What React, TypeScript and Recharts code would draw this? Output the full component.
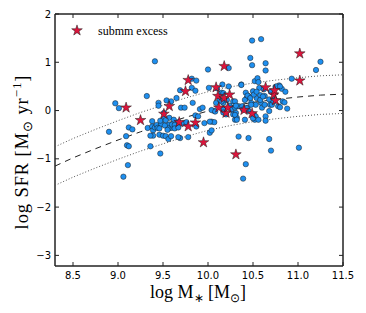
import React from "react";
import { ScatterChart, Scatter, XAxis, YAxis, Customized, ReferenceArea } from "recharts";

const xTicks = [8.5, 9.0, 9.5, 10.0, 10.5, 11.0, 11.5];
const yTicks = [-3, -2, -1, 0, 1, 2];
const xDomain: [number, number] = [8.3, 11.5];
const yDomain: [number, number] = [-3.22, 2];

const normalGalaxies: [number, number][] = [
  [8.90,-0.44],[8.97,0.15],[9.01,0.05],[9.09,-0.53],[9.10,-0.72],[9.12,-0.74],[9.11,-1.13],[9.06,-1.37],[9.12,-0.35],[9.16,-0.39],
  [9.32,0.30],[9.33,-0.36],[9.36,-0.74],[9.41,1.02],[9.45,0.16],[9.45,0.10],[9.38,-0.22],[9.38,-0.33],[9.39,-0.41],[9.39,-0.52],
  [9.41,-0.35],[9.46,-0.50],[9.47,-0.89],[9.50,-0.52],[9.51,-0.05],[9.51,-0.16],[9.53,-0.53],[9.54,0.21],[9.56,-0.59],[9.57,-0.29],
  [9.57,-0.15],[9.59,0.19],[9.59,-0.36],[9.59,-0.53],[9.62,-0.19],[9.67,-0.24],[9.69,0.42],[9.70,0.06],[9.69,-0.57],[9.72,-0.27],
  [9.74,0.06],[9.76,-0.24],[9.78,-0.55],[9.82,0.66],[9.82,0.47],[9.86,0.41],[9.87,0.62],[9.83,0.16],[9.86,-0.10],[9.89,-0.12],
  [9.91,0.03],[9.87,-0.33],[9.94,0.06],[9.96,-0.26],[9.65,0.26],[9.56,-0.37],[9.36,-0.52],[9.43,-0.30],[9.48,-0.28],[9.52,-0.31],
  [9.55,-0.40],[9.60,-0.29],[9.63,-0.30],[9.44,-0.36],[9.47,-0.21],[9.53,-0.20],[9.46,-0.37],[9.63,-0.37],[9.67,-0.35],[9.67,-0.55],
  [10.00,0.85],[10.01,0.47],[10.02,-0.46],[10.04,-0.41],[10.04,-0.23],[10.07,-0.24],[10.07,-0.01],[10.09,0.16],[10.13,0.23],[10.15,0.37],
  [10.17,0.16],[10.17,0.02],[10.19,0.23],[10.20,-0.08],[10.23,0.88],[10.23,0.50],[10.24,0.10],[10.26,0.02],[10.28,-0.08],[10.28,0.19],
  [10.30,-0.19],[10.30,0.06],[10.31,-0.05],[10.32,-0.15],[10.34,-0.54],[10.34,0.09],[10.37,0.54],[10.38,0.09],[10.39,0.02],[10.41,-0.19],
  [10.42,0.37],[10.42,-1.11],[10.39,-1.41],[10.43,0.26],[10.45,-0.57],[10.44,0.06],[10.45,0.30],[10.45,-0.01],[10.47,1.09],[10.48,0.16],
  [10.49,1.45],[10.49,0.94],[10.50,0.40],[10.51,-0.08],[10.52,0.61],[10.52,-0.19],[10.53,0.12],[10.54,0.26],[10.55,0.67],[10.56,0.59],
  [10.57,0.47],[10.58,0.32],[10.59,1.48],[10.59,0.16],[10.60,0.06],[10.62,0.44],[10.63,0.30],[10.64,0.98],[10.64,0.83],[10.64,-0.12],
  [10.64,-0.21],[10.68,-0.59],[10.68,0.23],[10.69,0.12],[10.70,0.39],[10.70,-0.83],[10.74,0.23],[10.75,0.49],[10.78,0.09],[10.79,0.52],
  [10.82,0.45],[10.83,0.19],[10.86,0.39],[10.88,0.04],[10.93,0.66],[11.01,-0.77],[11.20,0.84],[11.25,1.01],
  [10.10,0.46],[10.41,0.22],[10.43,0.05],[10.44,0.31],[10.47,0.26],[10.48,0.12],[10.51,0.33],[10.54,0.39],[10.58,0.22],[10.61,0.29],
  [10.63,0.12],[10.68,-0.01],[10.71,0.12],[10.76,0.50],[10.80,0.50],[10.85,0.17],[10.80,0.07],[10.73,0.19],[10.53,-0.12],[10.56,-0.19],
  [10.50,-0.16],[10.17,0.36],[10.15,0.19],[10.21,0.22],[10.30,0.19],[10.31,0.10],[10.04,0.01],[10.08,-0.02],[10.17,-0.04],[10.30,-0.09],
  [10.32,-0.19],[10.02,-0.23],[10.16,0.54],[10.37,0.53]
];

const submmExcess: [number, number][] = [
  [9.09,0.06],[9.25,-0.20],[9.51,-0.07],[9.57,0.09],[9.68,-0.24],[9.75,0.40],[9.78,0.63],[9.78,-0.33],[9.86,-0.25],[9.95,-0.66],
  [10.09,0.48],[10.11,0.30],[10.12,0.06],[10.18,0.92],[10.18,0.26],[10.20,-0.05],[10.22,0.06],[10.24,0.33],[10.31,-0.91],[10.40,0.01],
  [10.49,-0.06],[10.64,0.48],[10.73,0.33],[10.74,0.42],[10.75,0.21],[11.02,1.18],[11.02,0.62]
];

const msX = [8.3, 8.5, 8.75, 9.0, 9.25, 9.5, 9.75, 10.0, 10.25, 10.5, 10.75, 11.0, 11.25, 11.5];
const msMid = [-1.15, -0.98, -0.79, -0.61, -0.44, -0.29, -0.14, -0.01, 0.09, 0.17, 0.23, 0.28, 0.32, 0.34];
const msUpper = [-0.75, -0.58, -0.39, -0.21, -0.04, 0.11, 0.26, 0.39, 0.49, 0.57, 0.63, 0.68, 0.72, 0.74];
const msLower = [-1.55, -1.38, -1.19, -1.01, -0.84, -0.69, -0.54, -0.41, -0.31, -0.23, -0.17, -0.12, -0.08, -0.06];

const toPts = (arr: [number, number][]) => arr.map(([x, y]) => ({ x, y }));
const curve = (ys: number[]) => msX.map((x, i) => ({ x, y: ys[i] }));

const AXIS = "#222";
const BLUE = "#1E8FEF";
const RED = "#DC143C";

function starPath(cx: number, cy: number, R: number) {
  const r = R * 0.382;
  const pts: string[] = [];
  for (let i = 0; i < 10; i++) {
    const a = ((-90 + i * 36) * Math.PI) / 180;
    const rad = i % 2 === 0 ? R : r;
    pts.push(`${cx + rad * Math.cos(a)},${cy + rad * Math.sin(a)}`);
  }
  return pts.join(" ");
}

const Circle = (p: any) => (
  <circle cx={p.cx} cy={p.cy} r={2.7} fill={BLUE} stroke="#1a1a1a" strokeWidth={0.5} />
);
const Star = (p: any) => (
  <polygon points={starPath(p.cx, p.cy, 5.6)} fill={RED} stroke="#1a1a1a" strokeWidth={0.5} />
);
const NoDot = () => <g />;

const fmtX = (v: number) => v.toFixed(1);
const fmtY = (v: number) => (v < 0 ? "\u2212" + Math.abs(v) : String(v));

const BottomTick = (p: any) => (
  <g>
    <line x1={p.x} y1={p.y} x2={p.x} y2={p.y - 4} stroke={AXIS} strokeWidth={1} />
    <text x={p.x} y={p.y + 13} textAnchor="middle" fontSize={10} fontFamily="DejaVu Sans" fill="#000">
      {fmtX(p.payload.value)}
    </text>
  </g>
);
const TopTick = (p: any) => (
  <line x1={p.x} y1={p.y} x2={p.x} y2={p.y + 4} stroke={AXIS} strokeWidth={1} />
);
const LeftTick = (p: any) => (
  <g>
    <line x1={p.x} y1={p.y} x2={p.x + 4} y2={p.y} stroke={AXIS} strokeWidth={1} />
    <text x={p.x - 4} y={p.y + 3.6} textAnchor="end" fontSize={10} fontFamily="DejaVu Sans" fill="#000">
      {fmtY(p.payload.value)}
    </text>
  </g>
);
const RightTick = (p: any) => (
  <line x1={p.x} y1={p.y} x2={p.x - 4} y2={p.y} stroke={AXIS} strokeWidth={1} />
);

const Extras = () => (
  <g fontFamily="Liberation Serif" fill="#000">
    <polygon points={starPath(77, 30.5, 5.6)} fill={RED} stroke="#1a1a1a" strokeWidth={0.5} />
    <text x={98} y={34.5} fontSize={12}>submm excess</text>
    <text x={198} y={298} fontSize={18} textAnchor="middle">
      log M<tspan fontSize={12} dy={4}>∗</tspan>
      <tspan dy={-4}> [M</tspan>
      <tspan fontSize={12} dy={4}>⊙</tspan>
      <tspan dy={-4}>]</tspan>
    </text>
    <text x={0} y={0} fontSize={18.5} letterSpacing={0.9} textAnchor="middle" transform="translate(28,152) rotate(-90)">
      log SFR [M<tspan fontSize={13} dy={4}>⊙</tspan>
      <tspan dy={-4}> yr</tspan>
      <tspan fontSize={13} dy={-7}>−1</tspan>
      <tspan dy={7}>]</tspan>
    </text>
  </g>
);

export default function App() {
  return (
    <div style={{ position: "absolute", left: 0, top: 0, width: 366, height: 313, background: "#fff" }}>
      <ScatterChart width={366} height={313} margin={{ top: 13, right: 22, bottom: 0, left: 0 }}>
        <XAxis
          xAxisId="b"
          dataKey="x"
          type="number"
          domain={xDomain}
          ticks={xTicks}
          allowDataOverflow
          height={47}
          tickSize={0}
          tickMargin={0}
          tickLine={false}
          axisLine={{ stroke: AXIS, strokeWidth: 1 }}
          tick={BottomTick}
          interval={0}
        />
        <XAxis
          xAxisId="t"
          orientation="top"
          dataKey="x"
          type="number"
          domain={xDomain}
          ticks={xTicks}
          allowDataOverflow
          height={1}
          tickSize={0}
          tickMargin={0}
          tickLine={false}
          axisLine={{ stroke: AXIS, strokeWidth: 1 }}
          tick={TopTick}
          interval={0}
        />
        <YAxis
          yAxisId="l"
          dataKey="y"
          type="number"
          domain={yDomain}
          ticks={yTicks}
          allowDataOverflow
          width={55}
          tickSize={0}
          tickMargin={0}
          tickLine={false}
          axisLine={{ stroke: AXIS, strokeWidth: 1 }}
          tick={LeftTick}
          interval={0}
        />
        <YAxis
          yAxisId="r"
          orientation="right"
          dataKey="y"
          type="number"
          domain={yDomain}
          ticks={yTicks}
          allowDataOverflow
          width={1}
          tickSize={0}
          tickMargin={0}
          tickLine={false}
          axisLine={{ stroke: AXIS, strokeWidth: 1 }}
          tick={RightTick}
          interval={0}
        />
        <ReferenceArea
          xAxisId="b"
          yAxisId="l"
          x1={xDomain[0]}
          x2={xDomain[1]}
          y1={yDomain[0]}
          y2={yDomain[1]}
          fill="none"
          fillOpacity={0}
          stroke={AXIS}
          strokeWidth={1}
          ifOverflow="visible"
        />
        <Scatter xAxisId="b" yAxisId="l" data={curve(msUpper)} line={{ stroke: "#555", strokeWidth: 1, strokeDasharray: "1 2" }} lineType="joint" shape={NoDot} isAnimationActive={false} />
        <Scatter xAxisId="b" yAxisId="l" data={curve(msLower)} line={{ stroke: "#555", strokeWidth: 1, strokeDasharray: "1 2" }} lineType="joint" shape={NoDot} isAnimationActive={false} />
        <Scatter xAxisId="b" yAxisId="l" data={curve(msMid)} line={{ stroke: "#222", strokeWidth: 1, strokeDasharray: "6 5" }} lineType="joint" shape={NoDot} isAnimationActive={false} />
        <Scatter xAxisId="b" yAxisId="l" data={toPts(normalGalaxies)} shape={Circle} isAnimationActive={false} />
        <Scatter xAxisId="b" yAxisId="l" data={toPts(submmExcess)} shape={Star} isAnimationActive={false} />
        <Customized component={Extras} />
      </ScatterChart>
    </div>
  );
}
